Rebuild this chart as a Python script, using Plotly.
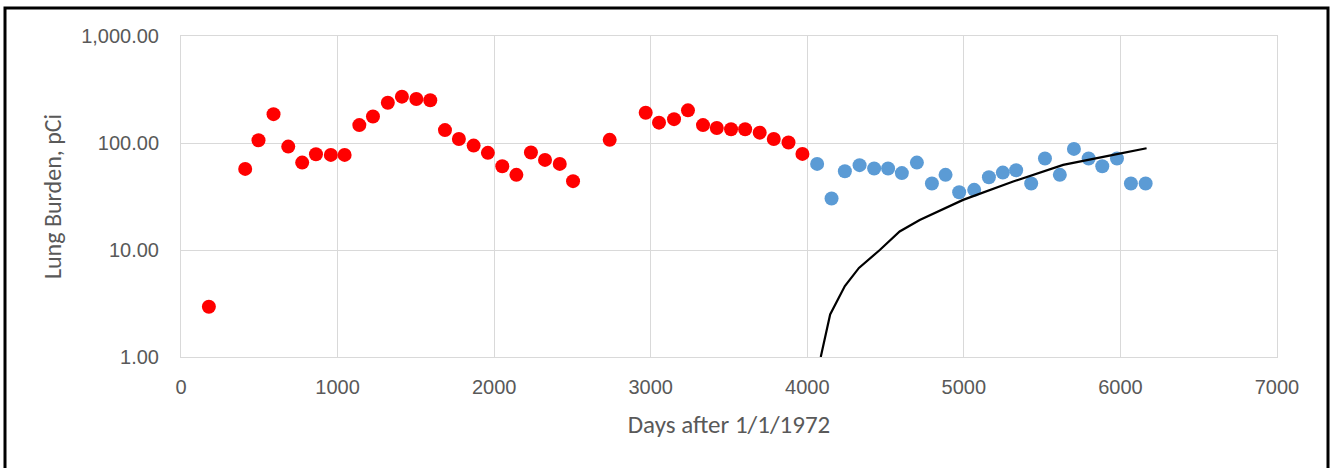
import plotly.graph_objects as go

# Red series (earlier measurements)
red_days = [178, 410, 495, 591, 685, 774, 862, 957, 1045, 1139, 1226, 1321, 1411, 1503, 1592,
            1686, 1775, 1869, 1960, 2052, 2142, 2235, 2325, 2419, 2504, 2738,
            2968, 3053, 3149, 3238, 3334, 3422, 3513, 3603, 3696, 3786, 3880, 3969]
red_vals = [2.95, 57.3, 106, 186, 92.5, 65.6, 78.6, 77.4, 77.4, 147, 177, 238, 271, 258, 251,
            132, 109, 94.6, 80.9, 60.7, 50.4, 81.4, 69.5, 63.8, 44.0, 107,
            192, 155, 167, 202, 147, 138, 134.5, 134.5, 125, 109, 101, 79.1]

# Blue series (later measurements)
blue_days = [4063, 4155, 4240, 4334, 4427, 4516, 4604, 4700, 4796, 4883, 4970, 5066, 5160,
             5249, 5334, 5430, 5518, 5613, 5703, 5797, 5884, 5978, 6067, 6161]
blue_vals = [63.8, 30.3, 54.5, 62.1, 57.7, 57.7, 52.3, 65.6, 41.8, 50.4, 34.7, 36.5, 47.9,
             52.9, 55.7, 41.8, 71.6, 50.4, 88.1, 71.6, 60.7, 71.6, 41.8, 41.8]

# Black model curve
line_days = [4086, 4146, 4240, 4330, 4463, 4590, 4718, 4995, 5315, 5634, 5954, 6167]
line_vals = [1.0, 2.5, 4.6, 6.8, 10.0, 14.9, 19.1, 29.4, 43.6, 62.5, 77.4, 89.4]

x_ticks = [0, 1000, 2000, 3000, 4000, 5000, 6000, 7000]
y_ticks = [1, 10, 100, 1000]
y_tick_text = ["1.00", "10.00", "100.00", "1,000.00"]

fig = go.Figure()
fig.add_trace(go.Scatter(x=red_days, y=red_vals, mode="markers",
                         marker=dict(color="#FF0000", size=14), showlegend=False))
fig.add_trace(go.Scatter(x=blue_days, y=blue_vals, mode="markers",
                         marker=dict(color="#5B9BD5", size=14), showlegend=False))
fig.add_trace(go.Scatter(x=line_days, y=line_vals, mode="lines",
                         line=dict(color="black", width=2.2), showlegend=False))

grid = "#D9D9D9"
tick_font = dict(family="Liberation Sans, Arial", size=20, color="#595959")
title_font = dict(family="Carlito, Lato", size=24, color="#595959")

# Plot area should sit at x 181..1277, y 36..357 of the 1330x468 page
W, H = 1330, 468
fig.update_layout(
    width=W, height=H,
    margin=dict(l=181, r=W - 1277, t=36, b=H - 357),
    paper_bgcolor="white", plot_bgcolor="white",
    font=dict(family="Lato", color="#595959"),
    xaxis=dict(range=[0, 7000], tickvals=x_ticks, ticktext=[str(v) for v in x_ticks],
               showgrid=True, gridcolor=grid, gridwidth=1,
               showline=True, linecolor=grid, linewidth=1, mirror=True,
               zeroline=False, ticks="", ticklen=0, ticklabelstandoff=12,
               tickfont=tick_font,
               title=dict(text="Days after 1/1/1972", standoff=18,
                          font=dict(family="Carlito, Lato", size=25, color="#595959"))),
    yaxis=dict(type="log", range=[0, 3], tickvals=y_ticks, ticktext=y_tick_text,
               showgrid=True, gridcolor=grid, gridwidth=1,
               showline=True, linecolor=grid, linewidth=1, mirror=True,
               zeroline=False, ticks="", ticklen=0, ticklabelstandoff=17,
               tickfont=tick_font,
               title=dict(text="Lung Burden, pCi", standoff=12, font=title_font)),
    shapes=[dict(type="rect", xref="paper", yref="paper",
                 x0=(5 - 181) / 1096, x1=(1328 - 181) / 1096,
                 y0=(357 - 480) / 321, y1=(357 - 8) / 321,
                 line=dict(color="black", width=3), fillcolor="rgba(0,0,0,0)",
                 layer="below")],
)

fig.write_html(
    "out.html",
    config={"displayModeBar": False},
    post_script="document.body.style.margin='0';document.body.style.overflow='hidden';",
)
